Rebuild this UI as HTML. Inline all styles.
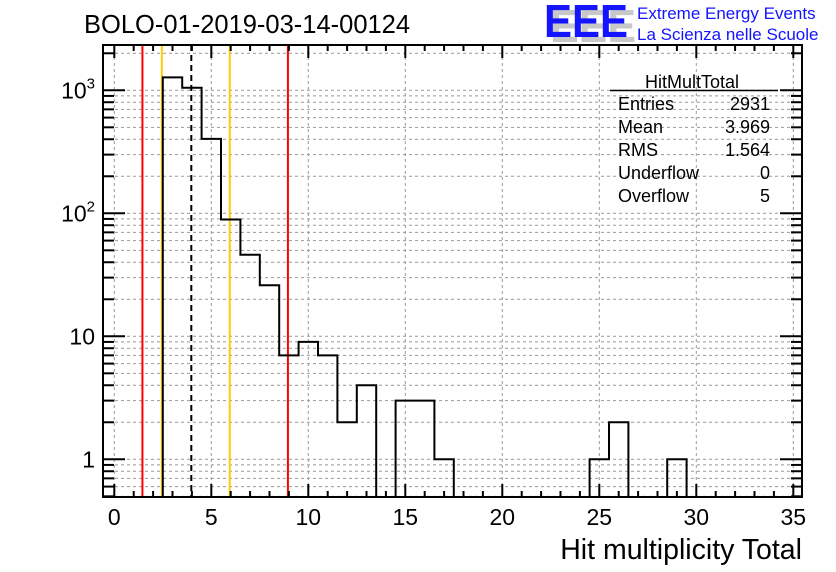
<!DOCTYPE html>
<html><head><meta charset="utf-8"><style>
body{margin:0;background:#fff;}
svg{display:block;font-family:"Liberation Sans",Arial,sans-serif;}
</style></head><body>
<svg id="chart" width="836" height="572" viewBox="0 0 836 572">
<rect width="836" height="572" fill="#fff"/>
<text x="84" y="33" font-size="25.5">BOLO-01-2019-03-14-00124</text>
<g>
<text x="550" y="42" font-size="46" font-weight="bold" fill="#c8c8c8" textLength="86" lengthAdjust="spacingAndGlyphs">EEE</text>
<text x="544" y="37" font-size="46" font-weight="bold" fill="#1414ff" textLength="84" lengthAdjust="spacingAndGlyphs">EEE</text>
<text x="637" y="19" font-size="17" fill="#1414ff">Extreme Energy Events</text>
<text x="637" y="40" font-size="17" fill="#1414ff">La Scienza nelle Scuole</text>
</g>
<g id="grid"></g>
<g id="marks"></g>
<g id="axes"></g>
<g font-size="18">
<text x="692" y="88" text-anchor="middle">HitMultTotal</text>
<line x1="610" y1="90.5" x2="778" y2="90.5" stroke="#000" stroke-width="1.5"/>
<text x="618" y="110">Entries</text><text x="770" y="110" text-anchor="end">2931</text>
<text x="618" y="133">Mean</text><text x="770" y="133" text-anchor="end">3.969</text>
<text x="618" y="156">RMS</text><text x="770" y="156" text-anchor="end">1.564</text>
<text x="618" y="179">Underflow</text><text x="770" y="179" text-anchor="end">0</text>
<text x="618" y="202">Overflow</text><text x="770" y="202" text-anchor="end">5</text>
</g>
<text x="802" y="559" font-size="28.5" text-anchor="end">Hit multiplicity Total</text>
</svg>
<script>
const binCenters=[3,4,5,6,7,8,9,10,11,12,13,14,15,16,17,18,19,20,21,22,23,24,25,26,27,28,29];
const binCounts=[1275,1048,403,89,46,26,7,9,7,2,4,0,3,3,1,0,0,0,0,0,0,0,1,2,0,0,1];
const xTicks=[0,5,10,15,20,25,30,35];
const yDecades=[1,10,100,1000];
const yDecadeLabels=["1","10","10^2","10^3"];
const redLines=[1.45,8.95];
const yellowLines=[2.45,5.95];
const meanLine=[3.969];

const L=103,R=802,T=45,B=497;
const X=v=>114.3+v*19.4;
const Y=v=>459.3-Math.log10(v)*123;
const NS="http://www.w3.org/2000/svg";
function mk(parent,tag,attrs){const e=document.createElementNS(NS,tag);for(const k in attrs)e.setAttribute(k,attrs[k]);parent.appendChild(e);return e;}
const grid=document.getElementById('grid'),marks=document.getElementById('marks'),axes=document.getElementById('axes');
xTicks.forEach(t=>{const l=mk(grid,'line',{x1:X(t),x2:X(t),y1:T,y2:B,stroke:'#999','stroke-dasharray':'3,3','stroke-width':1});

});
const ymin=Math.pow(10,(459.3-B)/123),ymax=Math.pow(10,(459.3-T)/123);
for(let d=0.1;d<=1000;d*=10){for(let m=1;m<=9;m++){const v=d*m;if(v<ymin||v>ymax)continue;
const l=mk(grid,'line',{x1:L,x2:R,y1:Y(v),y2:Y(v),stroke:'#999','stroke-dasharray':'3,3','stroke-width':1});


const tl=(m===1)?22:11;
const a=mk(axes,'line',{x1:L,x2:L+tl,y1:Y(v),y2:Y(v),stroke:'#000','stroke-width':2});


const b=mk(axes,'line',{x1:R,x2:R-tl,y1:Y(v),y2:Y(v),stroke:'#000','stroke-width':2});

}}
function vline(v,col,dash,name){const l=mk(marks,'line',{x1:X(v),x2:X(v),y1:T,y2:B,stroke:col,'stroke-width':2});if(dash)l.setAttribute('stroke-dasharray',dash);

}
redLines.forEach(v=>vline(v,'#ff0000',null,'red-marker-line'));
yellowLines.forEach(v=>vline(v,'#ffcc00',null,'yellow-marker-line'));
meanLine.forEach(v=>vline(v,'#000',"6,4",'mean-line'));
let d='',prevOn=false;
binCenters.forEach((c,i)=>{const v=binCounts[i];const x0=X(c-0.5),x1=X(c+0.5);
if(v>0){const y=Math.min(Y(v),B);d+=(prevOn?`L${x0},${y}`:`M${x0},${B}L${x0},${y}`)+`L${x1},${y}`;prevOn=true;}
else{if(prevOn)d+=`L${x0},${B}`;prevOn=false;}});
if(prevOn)d+=`L${X(binCenters[binCenters.length-1]+0.5)},${B}`;
const h=mk(marks,'path',{d:d,fill:'none',stroke:'#000','stroke-width':2});


const f=mk(axes,'rect',{x:L,y:T,width:R-L,height:B-T,fill:'none',stroke:'#000','stroke-width':2});


for(let t=0;t<=35;t++){const big=(t%5===0);const len=big?13:6;
const a=mk(axes,'line',{x1:X(t),x2:X(t),y1:B,y2:B-len,stroke:'#000','stroke-width':2});


const b=mk(axes,'line',{x1:X(t),x2:X(t),y1:T,y2:T+len,stroke:'#000','stroke-width':2});

}
xTicks.forEach(t=>{const e=mk(axes,'text',{x:X(t),y:525,'font-size':23,'text-anchor':'middle'});e.textContent=t;

});
yDecades.forEach((v,i)=>{const lab=yDecadeLabels[i];
const e=mk(axes,'text',{x:95,y:Y(v)+8,'font-size':23,'text-anchor':'end'});
if(lab.indexOf('^')>=0){const p=lab.split('^');const b=mk(e,'tspan',{});b.textContent=p[0];const s=mk(e,'tspan',{dy:-10,'font-size':15});s.textContent=p[1];}
else e.textContent=lab;

});
</script>
</body></html>
